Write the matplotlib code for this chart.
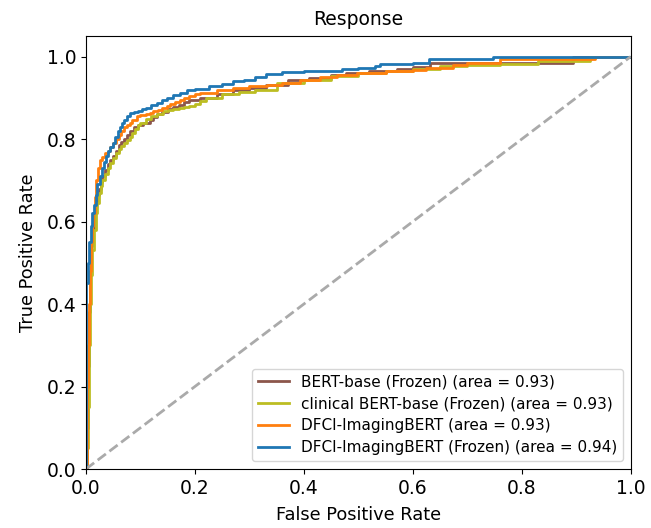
import matplotlib
matplotlib.use("Agg")
import matplotlib.pyplot as plt

labels = ["BERT-base (Frozen) (area = 0.93)",
          "clinical BERT-base (Frozen) (area = 0.93)",
          "DFCI-ImagingBERT (area = 0.93)",
          "DFCI-ImagingBERT (Frozen) (area = 0.94)"]
colors = ["#8c564b", "#bcbd22", "#ff7f0e", "#1f77b4"]

brown_fpr = [0, 0.002, 0.004, 0.006, 0.008, 0.01, 0.012, 0.015, 0.018, 0.021, 0.024, 0.027, 0.03,
             0.035, 0.04, 0.045, 0.05, 0.055, 0.06, 0.065, 0.07, 0.075, 0.08, 0.088, 0.095, 0.105,
             0.117, 0.123, 0.13, 0.14, 0.15, 0.16, 0.17, 0.18, 0.19, 0.21, 0.24, 0.27, 0.3, 0.33,
             0.37, 0.41, 0.45, 0.478, 0.52, 0.57, 0.6, 0.631, 0.894, 1.0]
brown_tpr = [0, 0.1, 0.25, 0.38, 0.48, 0.54, 0.58, 0.62, 0.645, 0.665, 0.68, 0.695, 0.71,
             0.725, 0.74, 0.75, 0.76, 0.772, 0.785, 0.792, 0.80, 0.81, 0.82, 0.828, 0.835, 0.84,
             0.847, 0.853, 0.86, 0.866, 0.872, 0.877, 0.882, 0.889, 0.895, 0.9, 0.91, 0.918, 0.924, 0.932,
             0.944, 0.948, 0.955, 0.96, 0.965, 0.97, 0.975, 0.985, 1.0, 1.0]

olive_fpr = [0, 0.002, 0.004, 0.006, 0.008, 0.01, 0.012, 0.015, 0.018, 0.021, 0.024, 0.027, 0.03,
             0.035, 0.04, 0.045, 0.05, 0.055, 0.06, 0.065, 0.07, 0.075, 0.08, 0.085, 0.09, 0.095,
             0.1, 0.11, 0.12, 0.13, 0.141, 0.15, 0.16, 0.17, 0.18, 0.19, 0.2, 0.21, 0.221, 0.25,
             0.28, 0.31, 0.35, 0.4, 0.45, 0.5, 0.55, 0.6, 0.65, 0.7, 0.76, 0.83, 0.925, 1.0]
olive_tpr = [0, 0.05, 0.15, 0.3, 0.4, 0.47, 0.53, 0.58, 0.62, 0.645, 0.67, 0.685, 0.70,
             0.715, 0.73, 0.742, 0.755, 0.765, 0.775, 0.782, 0.79, 0.797, 0.805, 0.815, 0.825, 0.833,
             0.84, 0.848, 0.855, 0.861, 0.867, 0.87, 0.872, 0.875, 0.878, 0.881, 0.885, 0.892, 0.9, 0.91,
             0.915, 0.92, 0.935, 0.944, 0.952, 0.96, 0.965, 0.97, 0.976, 0.98, 0.983, 0.99, 1.0, 1.0]

orange_fpr = [0, 0.002, 0.003, 0.005, 0.007, 0.009, 0.011, 0.013, 0.016, 0.019, 0.022, 0.026, 0.03,
              0.035, 0.04, 0.045, 0.05, 0.056, 0.06, 0.065, 0.07, 0.075, 0.08, 0.085, 0.093, 0.1,
              0.11, 0.117, 0.124, 0.132, 0.14, 0.148, 0.155, 0.163, 0.172, 0.18, 0.19, 0.2, 0.209,
              0.24, 0.27, 0.3, 0.332, 0.36, 0.393, 0.43, 0.46, 0.497, 0.55, 0.6, 0.625, 0.673, 0.7,
              0.76, 0.85, 0.935, 1.0]
orange_tpr = [0, 0.2, 0.3, 0.4, 0.48, 0.55, 0.59, 0.62, 0.66, 0.70, 0.73, 0.75, 0.757,
              0.765, 0.772, 0.78, 0.79, 0.80, 0.81, 0.82, 0.828, 0.835, 0.84, 0.845, 0.855, 0.858,
              0.86, 0.864, 0.867, 0.871, 0.875, 0.88, 0.885, 0.89, 0.895, 0.9, 0.905, 0.909, 0.912,
              0.918, 0.924, 0.928, 0.932, 0.936, 0.944, 0.95, 0.955, 0.96, 0.965, 0.968, 0.972, 0.98, 0.985,
              0.993, 0.995, 1.0, 1.0]

blue_fpr = [0, 0.0, 0.003, 0.006, 0.009, 0.012, 0.015, 0.018, 0.021, 0.025, 0.029, 0.033, 0.037,
            0.041, 0.045, 0.05, 0.054, 0.058, 0.062, 0.066, 0.07, 0.075, 0.081, 0.088, 0.095, 0.103,
            0.111, 0.12, 0.13, 0.14, 0.148, 0.16, 0.172, 0.185, 0.2, 0.225, 0.25, 0.27, 0.29, 0.31,
            0.33, 0.36, 0.4, 0.44, 0.47, 0.5, 0.53, 0.54, 0.6, 0.63, 0.7, 0.747, 1.0]
blue_tpr = [0, 0.45, 0.5, 0.55, 0.59, 0.62, 0.64, 0.665, 0.69, 0.71, 0.73, 0.745, 0.76,
            0.77, 0.78, 0.79, 0.805, 0.82, 0.83, 0.84, 0.847, 0.855, 0.863, 0.866, 0.869, 0.872,
            0.875, 0.882, 0.888, 0.894, 0.90, 0.906, 0.912, 0.918, 0.922, 0.928, 0.934, 0.94, 0.944, 0.95,
            0.958, 0.962, 0.964, 0.966, 0.97, 0.972, 0.978, 0.982, 0.985, 0.993, 0.995, 1.0, 1.0]

curves = [(brown_fpr, brown_tpr), (olive_fpr, olive_tpr), (orange_fpr, orange_tpr), (blue_fpr, blue_tpr)]

fig = plt.figure(figsize=(6.51, 5.28), dpi=100)
ax = fig.add_axes([0.132, 0.1117, 0.837, 0.8203])

for (fx, ty), c, lab in zip(curves, colors, labels):
    ax.plot(fx, ty, color=c, lw=2, drawstyle="steps-post", label=lab)

ax.plot([0, 1], [0, 1], color="#aaaaaa", lw=2, linestyle="--")

ax.set_xlim(0.0, 1.0)
ax.set_ylim(0.0, 1.05)
ax.set_xticks([0.0, 0.2, 0.4, 0.6, 0.8, 1.0])
ax.set_yticks([0.0, 0.2, 0.4, 0.6, 0.8, 1.0])
ax.tick_params(labelsize=13.5)
ax.set_xlabel("False Positive Rate", fontsize=12.8, labelpad=6)
ax.set_ylabel("True Positive Rate", fontsize=12.8, labelpad=7)
ax.set_title("Response", fontsize=13.5, pad=8)
ax.legend(loc="lower right", fontsize=11, labelspacing=0.45)

fig.savefig("out.png", dpi=100)
